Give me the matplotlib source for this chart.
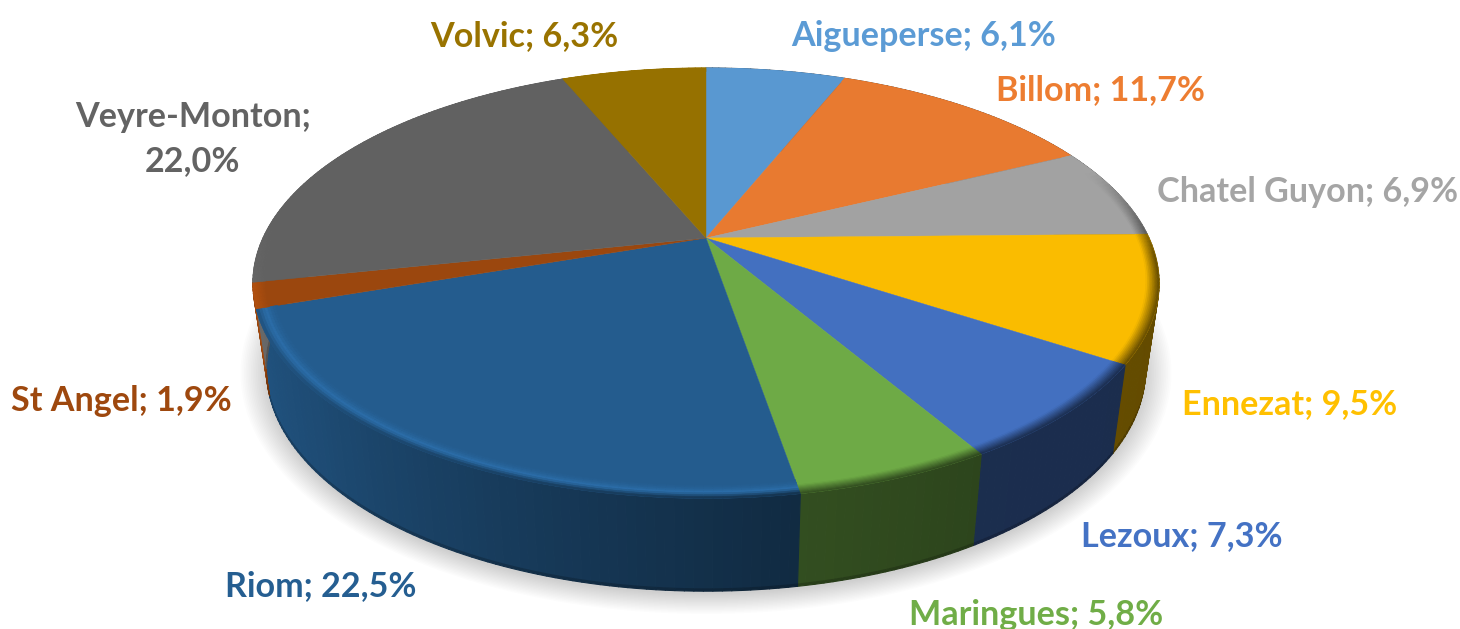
import numpy as np
import matplotlib
matplotlib.use("Agg")
import matplotlib.pyplot as plt
from matplotlib.collections import PolyCollection
from matplotlib.colors import to_rgb

names = ["Aigueperse", "Billom", "Chatel Guyon", "Ennezat", "Lezoux",
         "Maringues", "Riom", "St Angel", "Veyre-Monton", "Volvic"]
values = [6.1, 11.7, 6.9, 9.5, 7.3, 5.8, 22.5, 1.9, 22.0, 6.3]
colors = ["#5B9BD5", "#ED7D31", "#A5A5A5", "#FFC000", "#4472C4",
          "#70AD47", "#255E91", "#9E480E", "#636363", "#997300"]

# label centres in picture pixels
label_x = [924, 1101, 1308, 1290, 1182, 1036, 321, 121, 193, 524]
label_y = [36, 90, 192, 404, 536, 615, 586, 401, 139, 36]

# perspective of the disc
cx, cy = 706, 238
rx, ry = 443, 205.7
k = 0.21
# bottom of the wall compared to the top face
sx_low, sy_low, dy_low = 0.97, 1.03, 85

bevel = 0.028


def project(theta, r=1.0, t=0.0):
    """theta in degrees clockwise from 12 o'clock, t=0 top face, t=1 bottom of wall"""
    a = np.radians(theta)
    x = r * np.sin(a)
    y = r * np.cos(a)
    d = 1 + k * y
    sx = 1 + (sx_low - 1) * t
    sy = 1 + (sy_low - 1) * t
    return cx + sx * rx * x / d, cy + t * dy_low - sy * ry * y / d


def wall_shade(theta):
    return np.interp(theta, [60, 100, 150, 170, 200, 230, 252, 258, 300],
                     [0.40, 0.39, 0.40, 0.45, 0.62, 0.80, 0.88, 1.05, 1.0])


def bevel_weight(theta):
    return np.interp(theta, [70, 95, 262, 285], [0, 1, 1, 0])


fig = plt.figure(figsize=(14.6, 6.29), dpi=100)
ax = fig.add_axes([0, 0, 1, 1])
ax.set_xlim(0, 1460)
ax.set_ylim(629, 0)
ax.axis("off")

# soft shadow under the disc
ring = np.linspace(0, 360, 361)
for grow in np.linspace(0, 26, 16):
    sx_, sy_ = project(ring, 1.0, 1.0)
    sx_ = cx + (sx_ - cx) * (1 + grow / 440)
    sy_mid = cy + dy_low + 40
    sy_ = sy_mid + (sy_ - sy_mid) * (1 + grow / 300) + 3
    ax.fill(sx_, sy_, color="black", alpha=0.011, lw=0, zorder=1)

# slice limits from the values
edges = np.concatenate([[0], np.cumsum(values)]) / np.sum(values) * 360

# walls first
for i in range(len(values)):
    rgb = np.array(to_rgb(colors[i]))
    th = np.append(np.arange(edges[i], edges[i + 1], 1.0), edges[i + 1])
    rows = [0, 0.975, 1]
    quads = []
    cols = []
    for a, b in zip(th[:-1], th[1:]):
        for t0, t1 in zip(rows[:-1], rows[1:]):
            x0, y0 = project(a, 1.0, t0)
            x1, y1 = project(b, 1.0, t0)
            x2, y2 = project(b, 1.0, t1)
            x3, y3 = project(a, 1.0, t1)
            quads.append([(x0, y0), (x1, y1), (x2, y2), (x3, y3)])
            shade = wall_shade((a + b) / 2)
            if t0 > 0:
                shade = shade * 0.8
            cols.append(np.clip(rgb * shade, 0, 1))
    ax.add_collection(PolyCollection(quads, facecolors=cols, edgecolors=cols, linewidths=0.8, zorder=2))

# top faces
for i in range(len(values)):
    th = np.append(np.arange(edges[i], edges[i + 1], 0.5), edges[i + 1])
    xs, ys = project(th)
    face = np.array(to_rgb(colors[i])) * 0.98
    ax.fill(np.r_[cx, xs], np.r_[cy, ys], color=face, lw=0.3, zorder=3)

# rounded rim between top face and wall
for i in range(len(values)):
    rgb = np.array(to_rgb(colors[i])) * 0.98
    width = 0.045 if names[i] == "Riom" else bevel
    th = np.append(np.arange(edges[i], edges[i + 1], 1.0), edges[i + 1])
    radii = np.linspace(1 - width, 1, 9)
    quads = []
    cols = []
    for a, b in zip(th[:-1], th[1:]):
        mid = (a + b) / 2
        for n, (r0, r1) in enumerate(zip(radii[:-1], radii[1:])):
            x0, y0 = project(a, r0)
            x1, y1 = project(b, r0)
            x2, y2 = project(b, r1)
            x3, y3 = project(a, r1)
            quads.append([(x0, y0), (x1, y1), (x2, y2), (x3, y3)])
            u = (n + 0.5) / (len(radii) - 1)
            if names[i] == "Riom":
                # the blue slice gets a light band that ends in the wall colour
                light = np.clip(rgb * 1.2, 0, 1)
                wall = rgb * wall_shade(mid)
                if u < 0.6:
                    c = rgb + (light - rgb) * (u / 0.6) ** 2
                else:
                    c = light + (wall - light) * ((u - 0.6) / 0.4)
            elif names[i] == "St Angel":
                c = np.clip(rgb * (1 + 0.15 * u), 0, 1)
            else:
                target = rgb * wall_shade(mid)
                c = rgb + (target - rgb) * u * bevel_weight(mid)
            cols.append(c)
    ax.add_collection(PolyCollection(quads, facecolors=cols, edgecolors=cols, linewidths=0.4, zorder=4))

# labels
for i in range(len(values)):
    txt = f"{names[i]}; {values[i]:.1f}%".replace(".", ",")
    if names[i] == "Veyre-Monton":
        txt = txt.replace("; ", ";\n")
    ax.text(label_x[i], label_y[i], txt, color=colors[i], ha="center", va="center",
            family="Lato", fontweight="bold", fontsize=24.6, linespacing=1.45, zorder=5)

fig.savefig("out.png", dpi=100)
